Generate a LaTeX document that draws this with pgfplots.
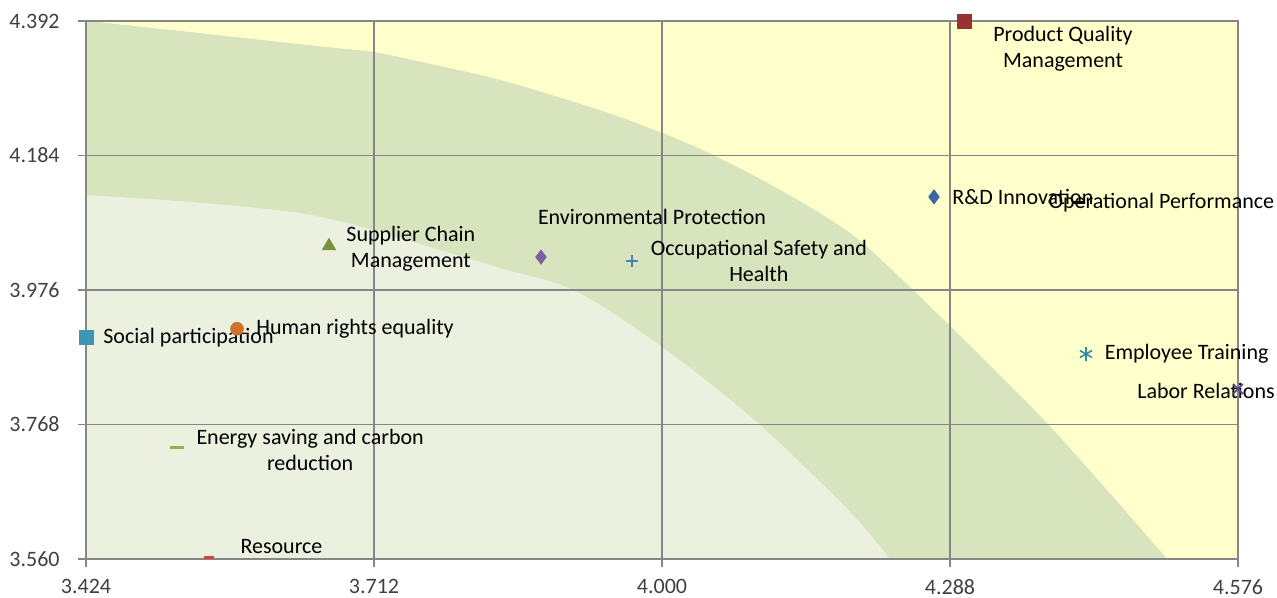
\documentclass[border=0pt]{standalone}
\usepackage{fontspec}
\setmainfont{Carlito}
\usepackage{pgfplots}
\pgfplotsset{compat=1.18}

\definecolor{bgyellow}{RGB}{255,255,204}
\definecolor{bggreen}{RGB}{215,228,189}
\definecolor{bglight}{RGB}{235,241,222}
\definecolor{gridgray}{RGB}{134,134,134}
\definecolor{ticktext}{RGB}{64,64,64}
\definecolor{cpqm}{RGB}{150,50,50}
\definecolor{crd}{RGB}{60,100,165}
\definecolor{cenv}{RGB}{128,96,162}
\definecolor{cocc}{RGB}{74,126,187}
\definecolor{csup}{RGB}{118,146,60}
\definecolor{chum}{RGB}{205,115,45}
\definecolor{csoc}{RGB}{60,150,180}
\definecolor{cene}{RGB}{140,180,80}
\definecolor{cres}{RGB}{217,65,60}
\definecolor{cemp}{RGB}{50,140,165}
\definecolor{clab}{RGB}{95,75,139}

\begin{document}
\begin{tikzpicture}[font=\fontsize{11bp}{13bp}\selectfont]
\begin{axis}[
    set layers,
    scale only axis,
    width=576bp, height=269bp,
    xmin=3.424, xmax=4.576,
    ymin=3.560, ymax=4.392,
    xtick={3.424,3.712,4.000,4.288,4.576},
    ytick={3.560,3.768,3.976,4.184,4.392},
    grid=major,
    major grid style={draw=gridgray, line width=0.75bp},
    axis line style={draw=gridgray, line width=0.75bp},
    tick style={draw=gridgray, line width=0.75bp},
    major tick length=4bp,
    tick align=outside,
    tick pos=left,
    /pgf/number format/.cd, fixed, fixed zerofill, precision=3, assume math mode=true,
    /pgfplots/.cd,
    ticklabel style={text=ticktext, font=\fontsize{11bp}{13bp}\selectfont},
    yticklabel style={inner sep=0pt, xshift=-9bp},
    xticklabel style={inner sep=0pt, yshift=-6bp},
    clip=false,
]
% background zones: a polygon under each curve, then the smooth curve over it
\addplot[fill=bgyellow, draw=none, on layer=axis background] coordinates {
    (3.424,3.560) (4.576,3.560) (4.576,4.392) (3.424,4.392)};
\addplot[fill=bggreen, draw=none, on layer=axis background] coordinates {
    (3.424,4.392) (3.711,4.344) (4.000,4.219) (4.188,4.064) (4.385,3.770)
    (4.505,3.560) (3.424,3.560)};
\addplot[smooth, fill=bggreen, draw=none, on layer=axis background] coordinates {
    (3.424,4.392) (3.538,4.373) (3.638,4.355) (3.711,4.344)
    (3.758,4.329) (3.838,4.301) (3.938,4.254) (4.000,4.219) (4.051,4.185)
    (4.118,4.131) (4.188,4.064) (4.251,3.976) (4.385,3.770) (4.505,3.560)};
\addplot[fill=bglight, draw=none, on layer=axis background] coordinates {
    (3.424,4.123) (3.711,4.069) (3.911,3.976) (4.096,3.770) (4.228,3.560)
    (3.424,3.560)};
\addplot[smooth, fill=bglight, draw=none, on layer=axis background] coordinates {
    (3.424,4.123) (3.538,4.111) (3.638,4.095) (3.711,4.069)
    (3.738,4.053) (3.824,4.015) (3.911,3.976) (4.000,3.888) (4.096,3.770)
    (4.188,3.633) (4.228,3.560)};

% issues
\addplot[only marks, mark=square*, mark size=3.5bp, color=cpqm] coordinates {(4.302,4.392)}
    node[text=black, align=center, inner sep=0pt, xshift=49.5bp, yshift=-14bp] {Product Quality\\Management};
\addplot[only marks, mark=diamond*, mark size=3.5bp, color=crd] coordinates {(4.272,4.120)}
    node[text=black, anchor=west, inner sep=0pt, xshift=9bp] {R\&D Innovation};
\addplot[only marks, mark=-, mark size=3bp, line width=1.5bp, color=black] coordinates {(4.416,4.111)}
    node[text=black, anchor=west, inner sep=0pt, xshift=-15.5bp] {Operational Performance};
\addplot[only marks, mark=diamond*, mark size=3.5bp, color=cenv] coordinates {(3.879,4.027)}
    node[text=black, inner sep=0pt, xshift=55.5bp, yshift=20bp] {Environmental Protection};
\addplot[only marks, mark=+, mark size=3.2bp, line width=0.8bp, color=cocc] coordinates {(3.970,4.021)}
    node[text=black, anchor=west, align=center, inner sep=0pt, xshift=9bp] {Occupational Safety and\\Health};
\addplot[only marks, mark=triangle*, mark size=3.8bp, color=csup] coordinates {(3.667,4.044)}
    node[text=black, anchor=west, align=center, inner sep=0pt, xshift=8.5bp, yshift=-1.5bp] {Supplier Chain\\Management};
\addplot[only marks, mark=*, mark size=3.2bp, color=chum] coordinates {(3.575,3.916)}
    node[text=black, anchor=west, inner sep=0pt, xshift=9.5bp] {Human rights equality};
\addplot[only marks, mark=square*, mark size=3.5bp, color=csoc] coordinates {(3.424,3.902)}
    node[text=black, anchor=west, inner sep=0pt, xshift=8.5bp] {Social participation};
\addplot[only marks, mark=-, mark size=3.5bp, line width=1.5bp, color=cene] coordinates {(3.515,3.732)}
    node[text=black, anchor=west, align=center, inner sep=0pt, xshift=9bp, yshift=-1bp] {Energy saving and carbon\\reduction};
\addplot[only marks, mark=-, mark size=2.5bp, line width=1.5bp, color=cres,
    mark options={yshift=0.8bp}] coordinates {(3.547,3.560)}
    node[text=black, anchor=west, inner sep=0pt, xshift=15bp, yshift=6bp] {Resource};
\addplot[only marks, mark=asterisk, mark size=3.5bp, line width=0.8bp, color=cemp] coordinates {(4.424,3.877)}
    node[text=black, anchor=west, inner sep=0pt, xshift=9bp] {Employee Training};
\addplot[only marks, mark=x, mark size=3.5bp, line width=0.9bp, color=clab] coordinates {(4.576,3.823)}
    node[text=black, inner sep=0pt, xshift=-16bp, yshift=-1bp] {Labor Relations};
\end{axis}
\pgfresetboundingbox
\path[use as bounding box] ([shift={(-43bp,-19.5bp)}]current axis.south west)
    rectangle ([shift={(19.5bp,10.5bp)}]current axis.north east);
\end{tikzpicture}
\end{document}
